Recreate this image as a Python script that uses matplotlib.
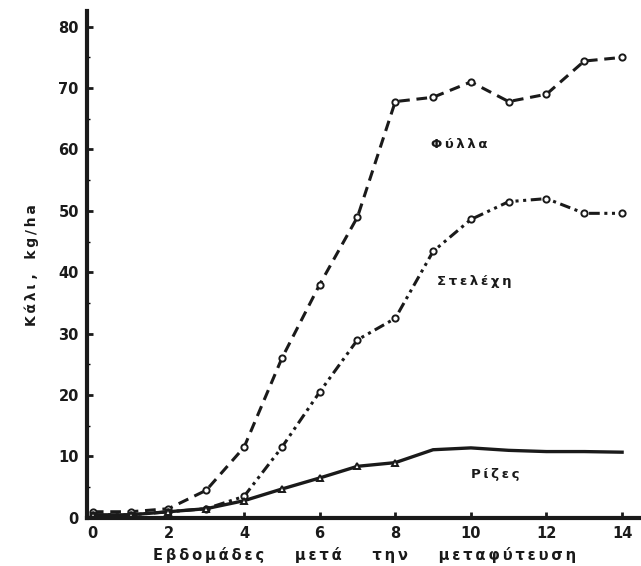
import numpy as np
import matplotlib.pyplot as plt

# weeks after transplanting
weeks = np.arange(0, 15)

# potassium uptake, kg/ha
leaves = [1, 1, 1.5, 4.5, 11.5, 26, 38, 49, 67.8, 68.5, 71, 67.8, 69, 74.4, 75]
stems = [0.5, 0.5, 1, 1.5, 3.5, 11.5, 20.5, 29, 32.5, 43.4, 48.6, 51.5, 52, 49.6, 49.6]
roots = [0.5, 0.5, 1, 1.5, 2.8, 4.7, 6.5, 8.4, 9.0, 11.1, 11.4, 11.0, 10.8, 10.8, 10.7]

labels = ['Φύλλα', 'Στελέχη', 'Ρίζες']
xticks = [0, 2, 4, 6, 8, 10, 12, 14]
yticks = [0, 10, 20, 30, 40, 50, 60, 70, 80]


def spaced(s, gap='   '):
    # wide letter spacing like the old lettering stencil
    return gap.join('\u2009'.join(w) for w in s.split())


plt.rcParams['font.family'] = ['DejaVu Sans']
fig = plt.figure(figsize=(6.41, 5.66), dpi=100)
ax = fig.add_axes([0.136, 0.085, 0.864, 0.895])

ink = '#1a1a1a'
ax.plot(weeks, leaves, color=ink, lw=2.2, dashes=(3.5, 2.2), marker='o', ms=4.5,
        mfc='white', mec=ink, mew=1.4)
ax.plot(weeks, stems, color=ink, lw=2.2, dashes=(3.5, 1.5, 1, 1.5, 1, 1.5),
        marker='o', ms=4.5, mfc='white', mec=ink, mew=1.4)
ax.plot(weeks, roots, color=ink, lw=2.4)
ax.plot(weeks[:9], roots[:9], ls='none', marker='^', ms=5, mfc='white',
        mec=ink, mew=1.4)

# curve labels
ax.text(8.95, 60.8, spaced(labels[0]), fontsize=9.5, fontweight='bold',
        color=ink, va='center')
ax.text(9.1, 38.5, spaced(labels[1]), fontsize=9.5, fontweight='bold',
        color=ink, va='center')
ax.text(10.0, 7.0, spaced(labels[2]), fontsize=9.5, fontweight='bold',
        color=ink, va='center')

ax.set_xlim(-0.15, 14.5)
ax.set_ylim(0, 82.5)
ax.set_xticks(xticks)
ax.set_yticks(yticks)
ax.set_yticks(np.arange(5, 80, 10), minor=True)
ax.tick_params(direction='in', width=2, length=4, labelsize=10.5, colors=ink,
               pad=6)
ax.tick_params(which='minor', direction='in', width=1, length=2)
for lab in ax.get_xticklabels() + ax.get_yticklabels():
    lab.set_fontweight('bold')

for s in ['top', 'right']:
    ax.spines[s].set_visible(False)
for s in ['left', 'bottom']:
    ax.spines[s].set_linewidth(3)
    ax.spines[s].set_color(ink)

ax.set_xlabel(spaced('Εβδομάδες μετά την μεταφύτευση', gap='      '),
              fontsize=10.5, fontweight='bold', color=ink, labelpad=4)
ax.set_ylabel(spaced('Κάλι') + ' ,   ' + spaced('kg/ha'), fontsize=10,
              fontweight='bold', color=ink, labelpad=14)

fig.savefig('out.png', dpi=100)
